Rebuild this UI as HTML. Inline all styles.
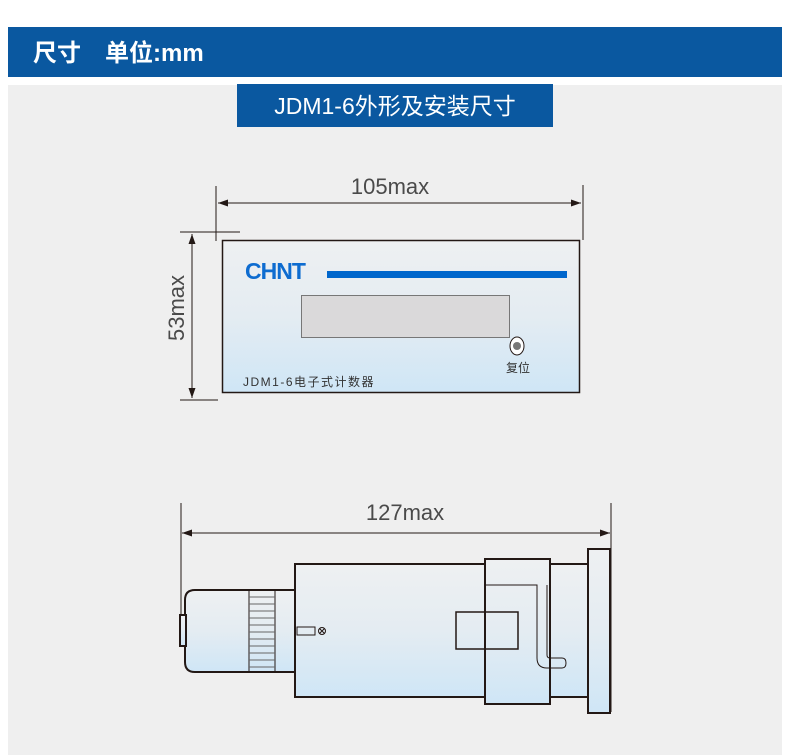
<!DOCTYPE html>
<html><head><meta charset="utf-8"><style>
body{margin:0;width:790px;height:755px;background:#fff;overflow:hidden;font-family:"Liberation Sans","Noto Sans CJK SC",sans-serif}
</style></head><body>
<svg width="790" height="755" xmlns="http://www.w3.org/2000/svg" style="position:absolute;left:0;top:0">
<defs>
<linearGradient id="g" x1="0" y1="0" x2="0" y2="1"><stop offset="0" stop-color="#eef0f2"/><stop offset="0.5" stop-color="#e4ecf2"/><stop offset="1" stop-color="#cfe6f6"/></linearGradient>
<marker id="a" viewBox="0 0 10 7" refX="10" refY="3.5" markerWidth="20" markerHeight="7" markerUnits="userSpaceOnUse" orient="auto-start-reverse"><path d="M0,0L10,3.5L0,7z" fill="#231815"/></marker>
</defs>
<rect x="8" y="27" width="774" height="50" fill="#0a58a0"/>
<text x="33" y="61" font-size="24" font-weight="bold" fill="#fff" font-family="Liberation Sans,Noto Sans CJK SC,sans-serif">尺寸　单位:mm</text>
<rect x="8" y="85" width="774" height="670" fill="#efefef"/>
<rect x="237" y="84" width="316" height="43" fill="#0a58a0"/>
<text x="395" y="114" font-size="23" fill="#fff" text-anchor="middle">JDM1-6外形及安装尺寸</text>

<g stroke="#231815" stroke-width="1" fill="none">
<line x1="216" y1="186" x2="216" y2="241"/><line x1="583" y1="185" x2="583" y2="240"/>
<line x1="218" y1="203" x2="581" y2="203" marker-start="url(#a)" marker-end="url(#a)"/>
<line x1="180" y1="232" x2="240" y2="232"/><line x1="180" y1="400" x2="218" y2="400"/>
<line x1="192" y1="234" x2="192" y2="398" marker-start="url(#a)" marker-end="url(#a)"/>
</g>
<text x="390" y="194" font-size="22" fill="#4a4a4a" text-anchor="middle">105max</text>
<text transform="translate(184,308) rotate(-90)" font-size="22" fill="#4a4a4a" text-anchor="middle">53max</text>
<rect x="222.5" y="240.5" width="357" height="152" fill="url(#g)" stroke="#231815" stroke-width="1.5"/>
<text x="245" y="279" font-size="23" font-weight="bold" fill="#0e6cd0" letter-spacing="-1">CHNT</text>
<rect x="327" y="271" width="240" height="7" fill="#0066cc"/>
<rect x="301.5" y="295.5" width="208" height="42" fill="#dad9da" stroke="#777"/>
<ellipse cx="517" cy="346" rx="7" ry="9" fill="#fff" stroke="#231815"/>
<circle cx="517" cy="346" r="4" fill="#777"/>
<text x="518" y="372" font-size="12" fill="#333" text-anchor="middle">复位</text>
<text x="243" y="386" font-size="12" fill="#333" letter-spacing="1.5">JDM1-6电子式计数器</text>

<g stroke="#231815" stroke-width="1" fill="none">
<line x1="181" y1="503" x2="181" y2="647"/><line x1="611" y1="503" x2="611" y2="712"/>
<line x1="182" y1="533" x2="610" y2="533" marker-start="url(#a)" marker-end="url(#a)"/>
</g>
<text x="405" y="520" font-size="22" fill="#4a4a4a" text-anchor="middle">127max</text>
<g stroke="#231815" stroke-width="2" fill="url(#g)">
<rect x="295" y="564" width="293" height="133"/>
<path d="M295,590H195Q185,590 185,600V662Q185,672 195,672H295Z"/>
<rect x="180" y="615" width="6" height="31"/>
<rect x="485" y="559" width="65" height="145"/>
<rect x="588" y="549" width="22" height="164"/>
</g>
<g stroke="#231815" stroke-width="1" fill="none">
<line x1="249" y1="590" x2="249" y2="672"/><line x1="275" y1="590" x2="275" y2="672"/>
<path d="M249,597H275M249,604H275M249,611H275M249,618H275M249,625H275M249,632H275M249,639H275M249,646H275M249,653H275M249,660H275M249,667H275" stroke="#666"/>
<rect x="297" y="627" width="18" height="8"/>
<circle cx="322" cy="631" r="3.5"/><path d="M319.5,628.5L324.5,633.5M324.5,628.5L319.5,633.5"/>
<rect x="456" y="612" width="62" height="37" stroke-width="1.5"/>
<path d="M485,585H537V658Q537,668 547,668H562Q566,668 566,663Q566,658 562,658H550Q547,658 547,655V585" stroke-width="1"/>
</g>
</svg>
</body></html>
